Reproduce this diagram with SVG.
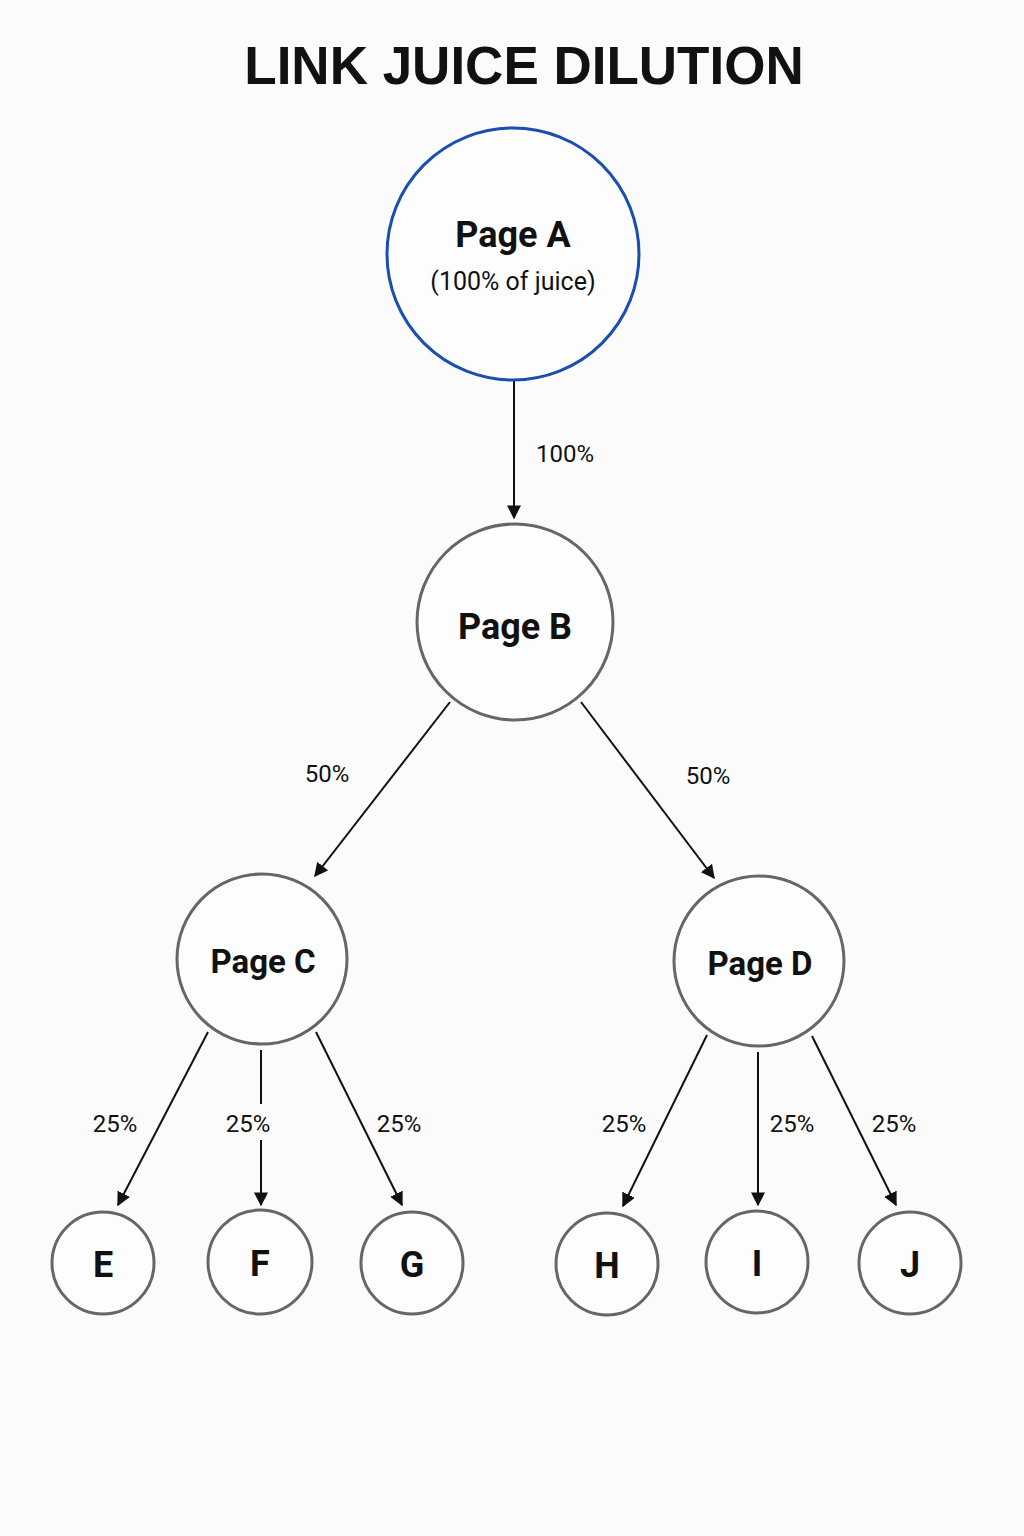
<svg xmlns="http://www.w3.org/2000/svg" width="1024" height="1536" viewBox="0 0 1024 1536">
<style>
.n{fill:#fdfdfd;stroke:#666;stroke-width:3}
.t{font-family:Roboto,"Liberation Sans",sans-serif;fill:#111;text-anchor:middle}
.b{font-weight:bold}
.l{font-family:Roboto,"Liberation Sans",sans-serif;font-size:24px;fill:#111;text-anchor:middle}
</style>
<defs><marker id="ah2" viewBox="0 0 10 10" refX="9" refY="5" markerWidth="14" markerHeight="14" orient="auto" markerUnits="userSpaceOnUse"><path d="M0,0L10,5L0,10z" fill="#111"/></marker></defs>
<rect width="1024" height="1536" fill="#fbfbfb"/>
<text x="524" y="84" class="t b" font-size="53" style="font-family:'Liberation Sans',Arial,sans-serif">LINK JUICE DILUTION</text>
<g id="connectors">
<g style="marker-end:url(#ah2)" stroke="#111" stroke-width="2" fill="none">
<line x1="514" y1="381" x2="514" y2="518"/>
<line x1="450" y1="702" x2="315" y2="876"/>
<line x1="581" y1="702" x2="714" y2="878"/>
<line x1="208" y1="1032" x2="118" y2="1205"/>
<line x1="261" y1="1050" x2="261" y2="1205"/>
<line x1="316" y1="1032" x2="402" y2="1205"/>
<line x1="707" y1="1035" x2="623" y2="1206"/>
<line x1="758" y1="1052" x2="758" y2="1205"/>
<line x1="812" y1="1036" x2="896" y2="1205"/>
</g>
<rect x="224" y="1104" width="50" height="36" fill="#fbfbfb"/>
<text class="l" x="565" y="462">100%</text>
<text class="l" x="327" y="782">50%</text>
<text class="l" x="708" y="784">50%</text>
<text class="l" x="115" y="1132">25%</text>
<text class="l" x="248" y="1132">25%</text>
<text class="l" x="399" y="1132">25%</text>
<text class="l" x="624" y="1132">25%</text>
<text class="l" x="792" y="1132">25%</text>
<text class="l" x="894" y="1132">25%</text>
</g>
<g id="pageA"><circle cx="513" cy="254" r="126" fill="#fdfdfd" stroke="#1a4fb0" stroke-width="3"/>
<text x="513" y="247" class="t b" font-size="36">Page A</text>
<text x="513" y="290" class="t" font-size="25">(100% of juice)</text></g>
<g id="pageB"><circle class="n" cx="515" cy="622" r="98"/><text x="515" y="639" class="t b" font-size="36">Page B</text></g>
<g id="pageC"><circle class="n" cx="262" cy="959" r="85"/><text x="263" y="973" class="t b" font-size="33">Page C</text></g>
<g id="pageD"><circle class="n" cx="759" cy="961" r="85"/><text x="760" y="975" class="t b" font-size="33">Page D</text></g>
<g id="E"><circle class="n" cx="103" cy="1263" r="51"/><text x="103" y="1277" class="t b" font-size="36">E</text></g>
<g id="F"><circle class="n" cx="260" cy="1262" r="52"/><text x="260" y="1276" class="t b" font-size="36">F</text></g>
<g id="G"><circle class="n" cx="412" cy="1263" r="51"/><text x="412" y="1277" class="t b" font-size="36">G</text></g>
<g id="H"><circle class="n" cx="607" cy="1264" r="51"/><text x="607" y="1278" class="t b" font-size="36">H</text></g>
<g id="I"><circle class="n" cx="757" cy="1262" r="51"/><text x="757" y="1276" class="t b" font-size="36">I</text></g>
<g id="J"><circle class="n" cx="910" cy="1263" r="51"/><text x="910" y="1277" class="t b" font-size="36">J</text></g>
</svg>
